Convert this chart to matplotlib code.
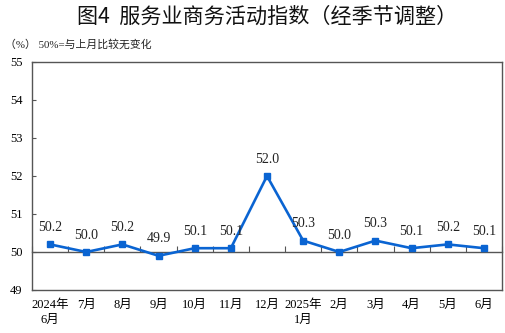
import numpy as np
import matplotlib
matplotlib.use("Agg")
import matplotlib.pyplot as plt
import matplotlib.transforms as mtransforms

months = ["2024年\n6月", "7月", "8月", "9月", "10月", "11月", "12月",
          "2025年\n1月", "2月", "3月", "4月", "5月", "6月"]
index_values = [50.2, 50.0, 50.2, 49.9, 50.1, 50.1, 52.0,
                50.3, 50.0, 50.3, 50.1, 50.2, 50.1]
y_ticks = [49, 50, 51, 52, 53, 54, 55]

serif = ["Liberation Serif", "Noto Sans CJK SC"]
sans = ["Noto Sans CJK SC", "DejaVu Sans"]

fig = plt.figure(figsize=(5.06, 3.33), dpi=100)
ax = fig.add_axes([32 / 506, 1 - 290 / 333, 470 / 506, 228 / 333])

x = np.arange(len(months))
ax.plot(x, index_values, color="#0a64d2", lw=1.9, marker="s", ms=4.5, zorder=3)
for xi, v in zip(x, index_values):
    ax.annotate(f"{v:.1f}", (xi, v), xytext=(0, 7.5), textcoords="offset points",
                ha="center", va="bottom", fontsize=10, family=serif, color="#222222")

ax.set_xlim(-0.5, len(months) - 0.5)
ax.set_ylim(49, 55)
ax.set_yticks(y_ticks)
ax.set_yticklabels([str(t) for t in y_ticks], family=serif, fontsize=9)
ax.tick_params(axis="y", direction="in", length=3, color="#555555", pad=7)

# x axis crosses at 50, ticks between categories
ax.spines["bottom"].set_position(("data", 50))
ax.set_xticks(np.arange(len(months) + 1) - 0.5)
ax.tick_params(axis="x", direction="in", length=4, color="#555555", labelbottom=False)
for s in ax.spines.values():
    s.set_color("#555555")
    s.set_linewidth(1.0)
ax.plot([0, 1], [0, 0], transform=ax.transAxes, color="#555555", lw=1.0, clip_on=False)

trans = mtransforms.blended_transform_factory(ax.transData, ax.transAxes)
for xi, lab in zip(x, months):
    ax.text(xi, -0.04, lab, transform=trans, ha="center", va="top",
            fontsize=9, family=serif, linespacing=1.35)

fig.text(267 / 506, 1 - 17 / 333, "图4  服务业商务活动指数（经季节调整）", ha="center", va="center",
         fontsize=15.2, family=sans, color="#111111")
fig.text(5 / 506, 1 - 44 / 333, "（%） 50%=与上月比较无变化", ha="left", va="center",
         fontsize=7.8, family=serif, color="#222222")

fig.savefig("out.png", dpi=100)
